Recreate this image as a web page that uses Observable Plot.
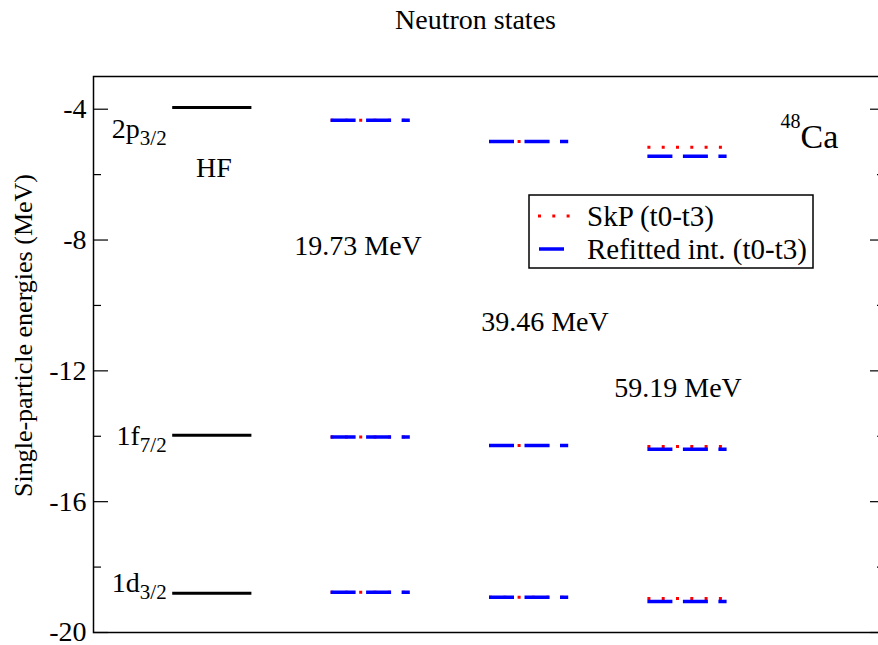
<!DOCTYPE html>
<html><head><meta charset="utf-8">
<script src="https://cdn.jsdelivr.net/npm/d3@7"></script>
<script src="https://cdn.jsdelivr.net/npm/@observablehq/plot@0.6"></script>
<style>
html,body{margin:0;padding:0;background:#fff;overflow:hidden;}
#chart svg, #chart svg text { font-family: "Liberation Serif", "Times New Roman", serif !important; }
</style></head><body><div id="chart"></div>
<script>
// ---- data ----
const columns = ["HF", "19.73 MeV", "39.46 MeV", "59.19 MeV"];
const states = ["2p", "1f", "1d"];
const stateSub = ["3/2", "7/2", "3/2"];
const hfEnergies = [-3.95, -13.97, -18.80];
// SkP (t0-t3), columns 19.73 / 39.46 / 59.19 MeV
const skp2p = [-4.34, -4.99, -5.16];
const skp1f = [-14.02, -14.28, -14.31];
const skp1d = [-18.77, -18.92, -18.96];
// Refitted int. (t0-t3)
const refit2p = [-4.34, -4.99, -5.44];
const refit1f = [-14.02, -14.28, -14.40];
const refit1d = [-18.77, -18.92, -19.05];
const majorTicks = [-4, -8, -12, -16, -20];
const minorTicks = [-6, -10, -14, -18];
const legendLabels = ["SkP (t0-t3)", "Refitted int. (t0-t3)"];
const title = "Neutron states";
const yLabel = "Single-particle energies (MeV)";
const nucleus = ["48", "Ca"];

// ---- build rows ----
const hfRows = states.map((s, i) => ({col: 0, state: s, energy: hfEnergies[i]}));
const skpByState = [skp2p, skp1f, skp1d];
const refitByState = [refit2p, refit1f, refit1d];
const skpRows = [], refitRows = [];
states.forEach((s, i) => {
  skpByState[i].forEach((e, c) => skpRows.push({col: c + 1, state: s, energy: e}));
  refitByState[i].forEach((e, c) => refitRows.push({col: c + 1, state: s, energy: e}));
});

const W = 878, H = 645, ML = 93, MR = -7, MT = 76, MB = 13;
const plotW = W - ML - MR;
const FONT = "'Liberation Serif', 'Times New Roman', serif";
const labelDy = [21, 1, -10];

const chart = Plot.plot({
  width: W, height: H,
  marginLeft: ML, marginRight: MR, marginTop: MT, marginBottom: MB,
  style: {fontFamily: FONT, fontSize: "28px", background: "white", color: "black"},
  x: {domain: [0, 5], axis: null},
  y: {domain: [-20, -3]},
  marks: [
    Plot.frame({stroke: "black", strokeWidth: 1.5}),
    Plot.axisY({ticks: majorTicks, tickSize: 0, tickPadding: 7, tickFormat: d => String(d), fontSize: 28, label: null}),
    Plot.tickY(majorTicks, {y: d => d, insetRight: plotW - 15, stroke: "black", strokeWidth: 1.2}),
    Plot.tickY(minorTicks, {y: d => d, insetRight: plotW - 8, stroke: "black", strokeWidth: 1.2}),
    Plot.tickY(majorTicks, {y: d => d, insetLeft: plotW - 15, stroke: "black", strokeWidth: 1.2}),
    Plot.tickY(minorTicks, {y: d => d, insetLeft: plotW - 8, stroke: "black", strokeWidth: 1.2}),
    Plot.ruleY(hfRows, {y: "energy", x1: d => d.col + 0.5, x2: d => d.col + 1, stroke: "black", strokeWidth: 3}),
    Plot.ruleY(skpRows, {y: "energy", x1: d => d.col + 0.5, x2: d => d.col + 1, stroke: "red", strokeWidth: 3, strokeDasharray: "3,11.3"}),
    Plot.ruleY(refitRows, {y: "energy", x1: d => d.col + 0.5, x2: d => d.col + 1, stroke: "blue", strokeWidth: 3.5, strokeDasharray: "25,10.5"}),
    ...states.map((s, i) => Plot.text([s], {x: 0.5, y: hfEnergies[i], dx: -6, dy: labelDy[i], textAnchor: "end", fontSize: 28})),
    Plot.text(columns, {x: [0.76, 1.67, 2.85, 3.69], y: [-5.8, -8.17, -10.52, -12.54], fontSize: 28}),
    Plot.text([title], {frameAnchor: "top", dy: -56, dx: -14, lineAnchor: "middle", textAnchor: "middle", fontSize: 28}),
    Plot.text([yLabel], {frameAnchor: "left", dx: -70, dy: -19, rotate: -90, textAnchor: "middle", lineAnchor: "middle", fontSize: 26}),
    Plot.text([nucleus[0]], {frameAnchor: "top-right", dx: -85, dy: 45, textAnchor: "end", lineAnchor: "middle", fontSize: 20}),
    Plot.text([nucleus[1]], {frameAnchor: "top-right", dx: -85, dy: 61, textAnchor: "start", lineAnchor: "middle", fontSize: 34})
  ]
});

const svg = d3.select(chart);
// subscripts on state labels
svg.selectAll("text").filter(function() { return states.includes(this.textContent); })
  .each(function() {
    const i = states.indexOf(this.textContent);
    d3.select(this).append("tspan").attr("dy", 7).attr("font-size", 21).text(stateSub[i]);
  });

// legend box
const lg = svg.append("g").attr("font-family", FONT).attr("text-anchor", "start");
lg.append("rect").attr("x", 529).attr("y", 195).attr("width", 284).attr("height", 73)
  .attr("fill", "white").attr("stroke", "black").attr("stroke-width", 1.5);
lg.append("line").attr("x1", 538).attr("x2", 571).attr("y1", 216).attr("y2", 216)
  .attr("stroke", "red").attr("stroke-width", 3).attr("stroke-dasharray", "3,11.3");
lg.append("line").attr("x1", 539).attr("x2", 564).attr("y1", 249).attr("y2", 249)
  .attr("stroke", "blue").attr("stroke-width", 3.5);
lg.selectAll("text.lab").data(legendLabels).join("text").attr("class", "lab")
  .attr("x", 587).attr("y", (d, i) => 216 + i * 33).attr("dy", "0.35em")
  .attr("text-anchor", "start")
  .attr("font-size", 29).attr("fill", "black").text(d => d);

document.getElementById("chart").appendChild(chart);
</script></body></html>
